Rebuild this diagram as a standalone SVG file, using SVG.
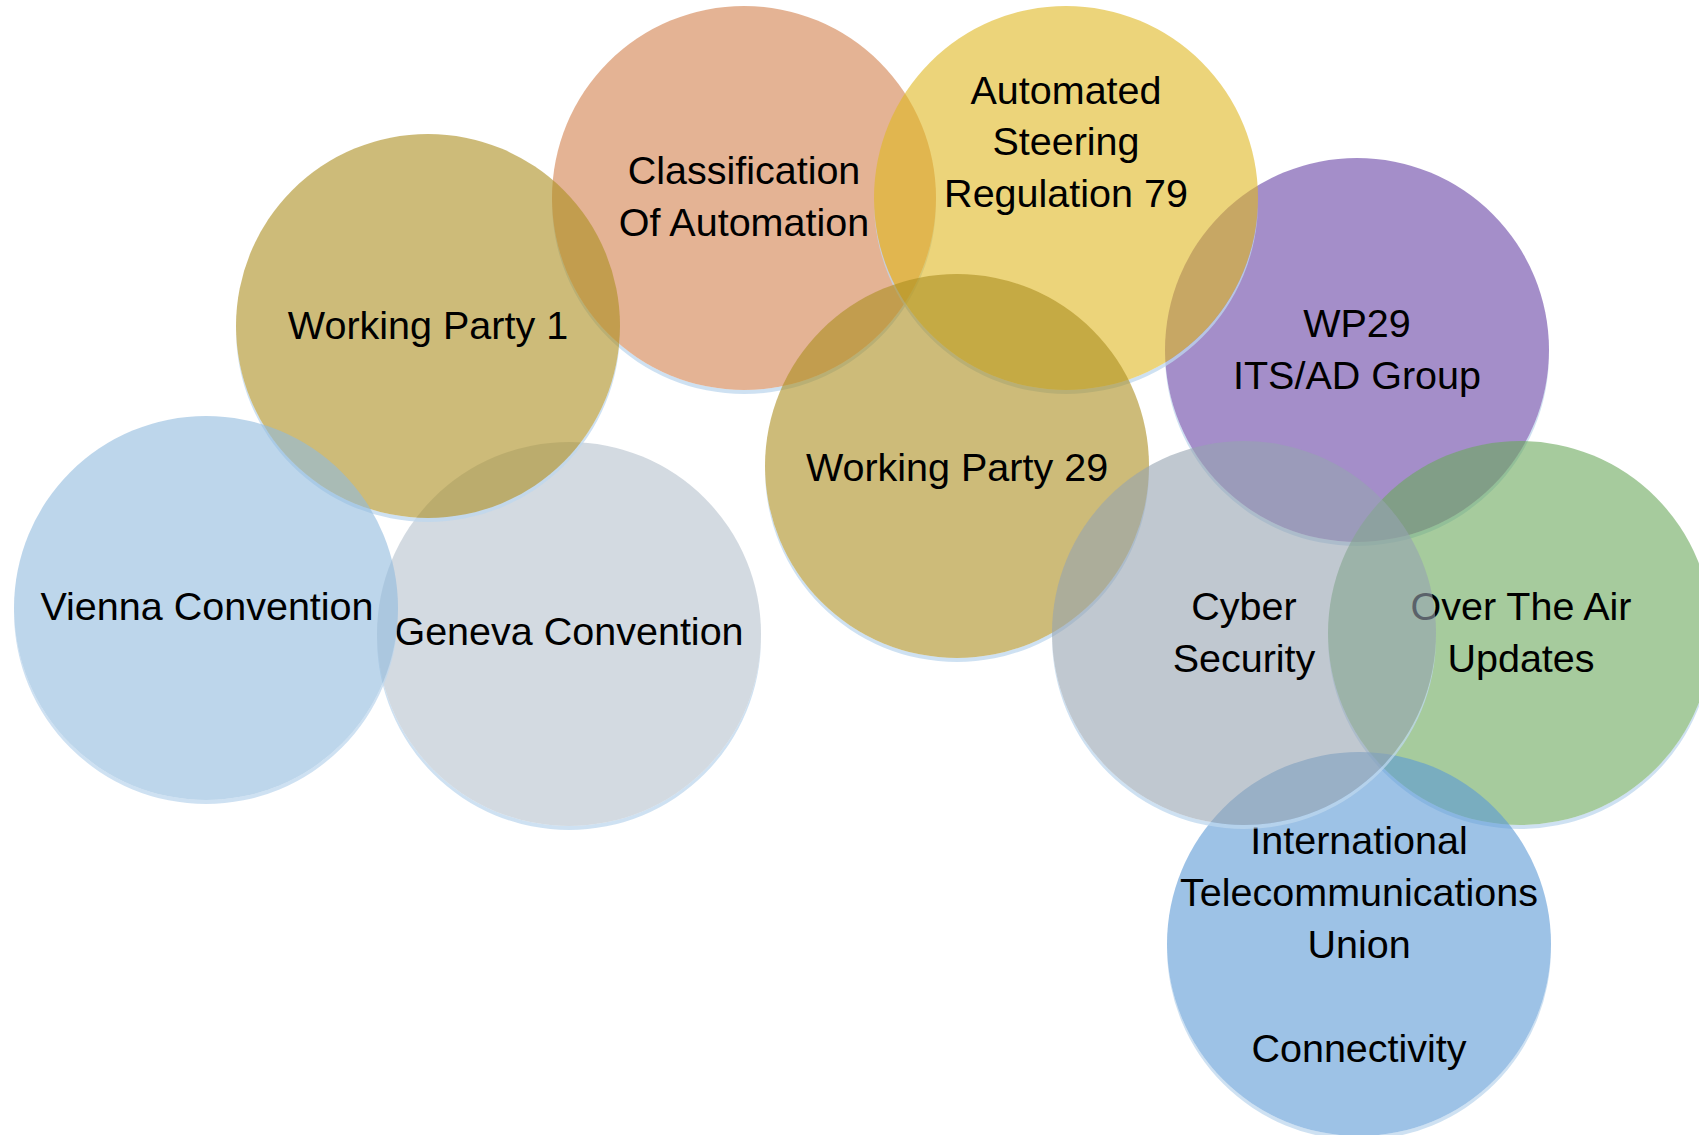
<svg xmlns="http://www.w3.org/2000/svg" width="1699" height="1135" viewBox="0 0 1699 1135">
<style>
.c{fill-opacity:0.6}
.sh{fill:#BDD7EE;fill-opacity:0.75}
text{font-family:"Liberation Sans",Arial,sans-serif;font-size:39.5px;fill:#000;text-anchor:middle}
</style>
<rect width="1699" height="1135" fill="#fff"/>
<g id="connectors"/>
<g id="geneva">
<path class="sh" d="M377,634 A192,192 0 0 0 761,634 L761,638 A192,192 0 0 1 377,638 Z"/>
<circle class="c" cx="569" cy="634" r="192" fill="#B6C1CD"/>
<text x="569" y="645">Geneva Convention</text>
</g>
<g id="classification">
<path class="sh" d="M552,198 A192,192 0 0 0 936,198 L936,202 A192,192 0 0 1 552,202 Z"/>
<circle class="c" cx="744" cy="198" r="192" fill="#D2804D"/>
<text x="744" y="184">Classification</text>
<text x="744" y="236">Of Automation</text>
</g>
<g id="wp1">
<path class="sh" d="M236,326 A192,192 0 0 0 620,326 L620,330 A192,192 0 0 1 236,330 Z"/>
<circle class="c" cx="428" cy="326" r="192" fill="#AC8E20"/>
<text x="428" y="339">Working Party 1</text>
</g>
<g id="vienna">
<path class="sh" d="M14,608 A192,192 0 0 0 398,608 L398,612 A192,192 0 0 1 14,612 Z"/>
<circle class="c" cx="206" cy="608" r="192" fill="#91BBDE"/>
<text x="207" y="620">Vienna Convention</text>
</g>
<g id="wp29-its-ad">
<path class="sh" d="M1165,350 A192,192 0 0 0 1549,350 L1549,354 A192,192 0 0 1 1165,354 Z"/>
<circle class="c" cx="1357" cy="350" r="192" fill="#6743A5"/>
<text x="1357" y="337">WP29</text>
<text x="1357" y="389">ITS/AD Group</text>
</g>
<g id="automated-steering">
<path class="sh" d="M874,198 A192,192 0 0 0 1258,198 L1258,202 A192,192 0 0 1 874,202 Z"/>
<circle class="c" cx="1066" cy="198" r="192" fill="#DFB721"/>
<text x="1066" y="104">Automated</text>
<text x="1066" y="155">Steering</text>
<text x="1066" y="207">Regulation 79</text>
</g>
<g id="wp29">
<path class="sh" d="M765,466 A192,192 0 0 0 1149,466 L1149,470 A192,192 0 0 1 765,470 Z"/>
<circle class="c" cx="957" cy="466" r="192" fill="#AC8E20"/>
<text x="957" y="481">Working Party 29</text>
</g>
<g id="ota">
<path class="sh" d="M1328,633 A192,192 0 0 0 1712,633 L1712,637 A192,192 0 0 1 1328,637 Z"/>
<circle class="c" cx="1520" cy="633" r="192" fill="#6BA85C"/>
<text x="1521" y="620">Over The Air</text>
<text x="1521" y="672">Updates</text>
</g>
<g id="itu">
<path class="sh" d="M1167,944 A192,192 0 0 0 1551,944 L1551,948 A192,192 0 0 1 1167,948 Z"/>
<circle class="c" cx="1359" cy="944" r="192" fill="#5C99D5"/>
<text x="1359" y="854">International</text>
<text x="1359" y="906">Telecommunications</text>
<text x="1359" y="958">Union</text>
<text x="1359" y="1062">Connectivity</text>
</g>
<g id="cyber">
<path class="sh" d="M1052,633 A192,192 0 0 0 1436,633 L1436,637 A192,192 0 0 1 1052,637 Z"/>
<circle class="c" cx="1244" cy="633" r="192" fill="#96A3B1"/>
<text x="1244" y="620">Cyber</text>
<text x="1244" y="672">Security</text>
</g>
</svg>
